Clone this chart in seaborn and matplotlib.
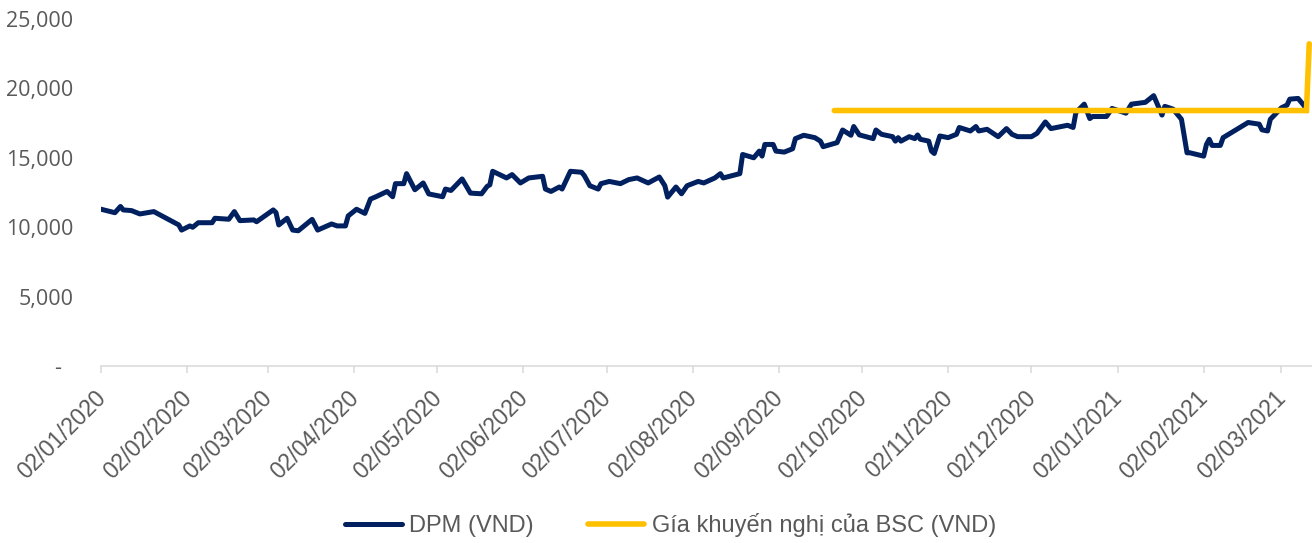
import pandas as pd
import matplotlib.pyplot as plt
import matplotlib.dates as mdates
import matplotlib.transforms as mtransforms
from matplotlib.lines import Line2D
from matplotlib.ticker import FuncFormatter
import seaborn as sns

# gia DPM (VND), doc tu bieu do
dpm_dates = [
    "02/01/2020", "07/01/2020", "09/01/2020", "10/01/2020", "13/01/2020", "16/01/2020", "21/01/2020",
    "30/01/2020", "31/01/2020", "03/02/2020", "04/02/2020", "06/02/2020", "11/02/2020", "12/02/2020",
    "17/02/2020", "19/02/2020", "21/02/2020", "26/02/2020", "27/02/2020", "04/03/2020", "05/03/2020",
    "06/03/2020", "09/03/2020", "11/03/2020", "13/03/2020", "18/03/2020", "20/03/2020", "25/03/2020",
    "27/03/2020", "30/03/2020", "31/03/2020", "03/04/2020", "06/04/2020", "08/04/2020", "10/04/2020",
    "14/04/2020", "16/04/2020", "17/04/2020", "20/04/2020", "21/04/2020", "24/04/2020", "27/04/2020",
    "29/04/2020", "04/05/2020", "05/05/2020", "07/05/2020", "11/05/2020", "14/05/2020", "18/05/2020",
    "20/05/2020", "21/05/2020", "22/05/2020", "27/05/2020", "29/05/2020", "01/06/2020", "04/06/2020",
    "09/06/2020", "10/06/2020", "12/06/2020", "15/06/2020", "16/06/2020", "19/06/2020", "23/06/2020",
    "24/06/2020", "26/06/2020", "29/06/2020", "30/06/2020", "03/07/2020", "07/07/2020", "10/07/2020",
    "13/07/2020", "17/07/2020", "21/07/2020", "23/07/2020", "24/07/2020", "27/07/2020", "29/07/2020",
    "31/07/2020", "04/08/2020", "06/08/2020", "10/08/2020", "12/08/2020", "13/08/2020", "19/08/2020",
    "20/08/2020", "24/08/2020", "26/08/2020", "27/08/2020", "28/08/2020", "31/08/2020", "01/09/2020",
    "04/09/2020", "07/09/2020", "08/09/2020", "11/09/2020", "15/09/2020", "17/09/2020", "18/09/2020",
    "23/09/2020", "25/09/2020", "28/09/2020", "29/09/2020", "01/10/2020", "06/10/2020", "07/10/2020",
    "09/10/2020", "13/10/2020", "14/10/2020", "15/10/2020", "16/10/2020", "19/10/2020", "21/10/2020",
    "22/10/2020", "23/10/2020", "26/10/2020", "27/10/2020", "28/10/2020", "30/10/2020", "02/11/2020",
    "05/11/2020", "06/11/2020", "10/11/2020", "12/11/2020", "13/11/2020", "16/11/2020", "20/11/2020",
    "23/11/2020", "25/11/2020", "27/11/2020", "02/12/2020", "04/12/2020", "07/12/2020", "09/12/2020",
    "15/12/2020", "17/12/2020", "18/12/2020", "21/12/2020", "23/12/2020", "24/12/2020", "29/12/2020",
    "31/12/2020", "05/01/2021", "07/01/2021", "12/01/2021", "15/01/2021", "18/01/2021", "19/01/2021",
    "22/01/2021", "25/01/2021", "27/01/2021", "28/01/2021", "02/02/2021", "03/02/2021", "04/02/2021",
    "05/02/2021", "08/02/2021", "09/02/2021", "18/02/2021", "22/02/2021", "23/02/2021", "25/02/2021",
    "26/02/2021", "02/03/2021", "04/03/2021", "05/03/2021", "08/03/2021", "10/03/2021", "11/03/2021",
]
dpm_prices = [
    11300, 11050, 11500, 11250, 11200, 10960, 11130,
    10170, 9800, 10100, 10000, 10330, 10330, 10650,
    10580, 11130, 10480, 10530, 10400, 11250, 11060,
    10170, 10650, 9800, 9750, 10570, 9800, 10240,
    10100, 10100, 10820, 11300, 11000, 12030, 12200,
    12580, 12200, 13140, 13140, 13860, 12700, 13190,
    12400, 12200, 12750, 12650, 13480, 12460, 12410,
    12940, 13060, 14030, 13550, 13790, 13190, 13550,
    13670, 12750, 12580, 12900, 12750, 14030, 13960,
    13720, 12990, 12750, 13140, 13300, 13140, 13430,
    13550, 13190, 13620, 12990, 12170, 12900, 12410,
    12990, 13300, 13190, 13550, 13860, 13550, 13860,
    15240, 15000, 15480, 15120, 15960, 15960, 15480,
    15410, 15650, 16380, 16620, 16450, 16200, 15800,
    16090, 17000, 16620, 17250, 16650, 16380, 17000,
    16690, 16520, 16200, 16450, 16200, 16520, 16380,
    16640, 16330, 16200, 15480, 15310, 16570, 16450,
    16690, 17180, 16930, 17250, 16930, 17050, 16520,
    17100, 16690, 16520, 16520, 16760, 17580, 17100,
    17340, 17180, 18260, 18860, 17820, 17970, 17970,
    18550, 18210, 18860, 18990, 19470, 18070, 18700,
    18500, 17770, 15360, 15360, 15120, 15960, 16330,
    15890, 15890, 16450, 17540, 17420, 17010, 16930,
    17770, 18600, 18790, 19220, 19270, 18790, 18450,
]

# gia khuyen nghi BSC
bsc_dates = ["22/09/2020", "11/03/2021", "12/03/2021"]
bsc_prices = [18400, 18400, 23200]

legend_labels = ["DPM (VND)", "Gía khuyến nghị của BSC (VND)"]

dpm = pd.DataFrame({"ngay": pd.to_datetime(dpm_dates, format="%d/%m/%Y"), "gia": dpm_prices})
bsc = pd.DataFrame({"ngay": pd.to_datetime(bsc_dates, format="%d/%m/%Y"), "gia": bsc_prices})

sns.set_theme(style="white")
plt.rcParams["font.family"] = ["Liberation Sans", "DejaVu Sans"]

navy = "#002060"
vang = "#FFC000"
xam = "#595959"

fig, ax = plt.subplots(figsize=(13.12, 5.43), dpi=100)
fig.subplots_adjust(left=0.077, right=1.0, top=0.9654, bottom=0.3254)

sns.lineplot(data=dpm, x="ngay", y="gia", color=navy, linewidth=3.6, ax=ax,
             solid_joinstyle="round", solid_capstyle="round")
sns.lineplot(data=bsc, x="ngay", y="gia", color=vang, linewidth=4.0, ax=ax,
             solid_joinstyle="miter", solid_capstyle="round")

ax.set_xlim(pd.Timestamp("2020-01-02"), pd.Timestamp("2021-03-13"))
ax.set_ylim(0, 25000)
ax.set_xlabel("")
ax.set_ylabel("")

ax.xaxis.set_major_locator(mdates.MonthLocator(bymonthday=2))
ax.xaxis.set_major_formatter(mdates.DateFormatter("%d/%m/%Y"))
ax.set_yticks(range(0, 25001, 5000))
ax.yaxis.set_major_formatter(FuncFormatter(lambda v, p: "-  " if v == 0 else f"{v:,.0f}"))

ax.tick_params(axis="y", length=0, pad=20, labelsize=15.5, labelcolor=xam, labelfontfamily="Open Sans")
ax.tick_params(axis="x", bottom=True, length=5, width=1.1, color="#D9D9D9", direction="out",
               pad=9.5, labelsize=16.5, labelcolor=xam)

# nhan truc x xoay 45 do, dich trai mot chut
dich = mtransforms.ScaledTranslation(-7 / 100, 0, fig.dpi_scale_trans)
for lbl in ax.get_xticklabels():
    lbl.set_rotation(45)
    lbl.set_ha("right")
    lbl.set_va("top")
    lbl.set_rotation_mode("anchor")
    lbl.set_transform(lbl.get_transform() + dich)

for s in ["top", "right", "left"]:
    ax.spines[s].set_visible(False)
ax.spines["bottom"].set_color("#D9D9D9")
ax.spines["bottom"].set_linewidth(1.1)

handles = [Line2D([], [], color=navy, lw=3.6, solid_capstyle="round"),
           Line2D([], [], color=vang, lw=4.0, solid_capstyle="round")]
fig.legend(handles, legend_labels, loc="center", bbox_to_anchor=(0.511, 0.033), ncol=2,
           frameon=False, fontsize=17, handlelength=2.4, handletextpad=0.3,
           columnspacing=2.3, labelcolor=xam)

fig.savefig("out.png", dpi=100)
